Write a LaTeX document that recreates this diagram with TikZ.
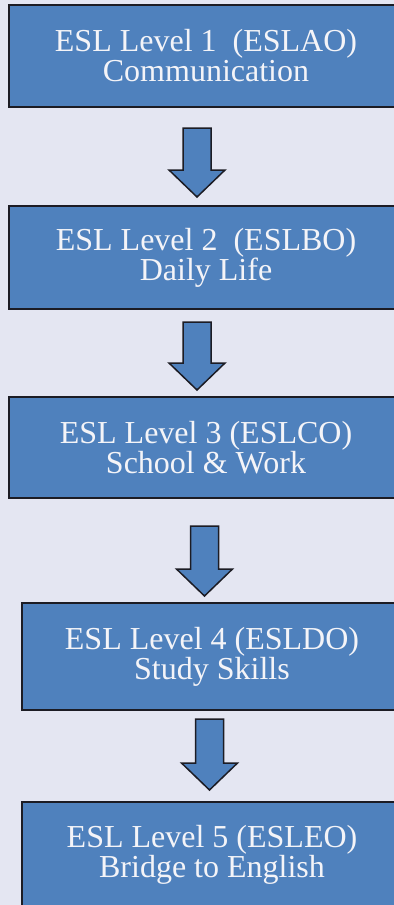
\documentclass[tikz,border=0pt]{standalone}
\usepackage{fontspec}
\setmainfont{Liberation Serif}
\usetikzlibrary{calc}
\definecolor{pagebg}{RGB}{228,230,242}
\definecolor{boxblue}{RGB}{79,129,189}
\definecolor{edgedark}{RGB}{28,28,36}
\definecolor{textwhite}{RGB}{244,244,248}

\begin{document}
\begin{tikzpicture}[x=0.5pt,y=-0.5pt,
		levelbox/.style={rectangle,draw=edgedark,line width=1pt,fill=boxblue,text=textwhite,align=center,inner sep=0pt,font=\fontsize{16}{15}\selectfont},
		wide/.style={minimum width=197pt},
		narrow/.style={minimum width=190pt},
		blockarrow/.style={draw=edgedark,line width=0.75pt,fill=boxblue,line join=miter,
			to path={($(\tikztostart)+(-14,0)$) -- ($(\tikztotarget)+(-14,-27)$) -- ($(\tikztotarget)+(-28,-27)$) -- (\tikztotarget)
				-- ($(\tikztotarget)+(28,-27)$) -- ($(\tikztotarget)+(14,-27)$) -- ($(\tikztostart)+(14,0)$) -- cycle}}
		]
		\useasboundingbox (0,0) rectangle (394,905);
		\clip (0,0) rectangle (394,905);
		\fill[pagebg] (0,0) rectangle (394,905);

		\node (lvl1) [levelbox,wide,minimum height=51pt] at (206,56) {ESL Level 1~~(ESLAO)\\Communication};
		\node (lvl2) [levelbox,wide,minimum height=51.5pt] at (206,257.5) {ESL Level 2~~(ESLBO)\\Daily Life};
		\node (lvl3) [levelbox,wide,minimum height=50.5pt] at (206,447.5) {ESL Level 3 (ESLCO)\\School \& Work};
		\node (lvl4) [levelbox,narrow,minimum height=53.5pt] at (212,656.5) {ESL Level 4 (ESLDO)\\Study Skills};
		\node (lvl5) [levelbox,narrow,minimum height=53pt] at (212,855) {ESL Level 5 (ESLEO)\\Bridge to English};

		% arrows between the levels
		\coordinate (up1) at (197,128);   \coordinate (tip1) at (197,197);
		\coordinate (up2) at (197,322);   \coordinate (tip2) at (197,390);
		\coordinate (up3) at (204.5,526); \coordinate (tip3) at (204.5,596);
		\coordinate (up4) at (209.5,719); \coordinate (tip4) at (209.5,790);
		\foreach \i in {1,...,4}
			\draw[blockarrow] (up\i) to (tip\i);
\end{tikzpicture}
\end{document}
